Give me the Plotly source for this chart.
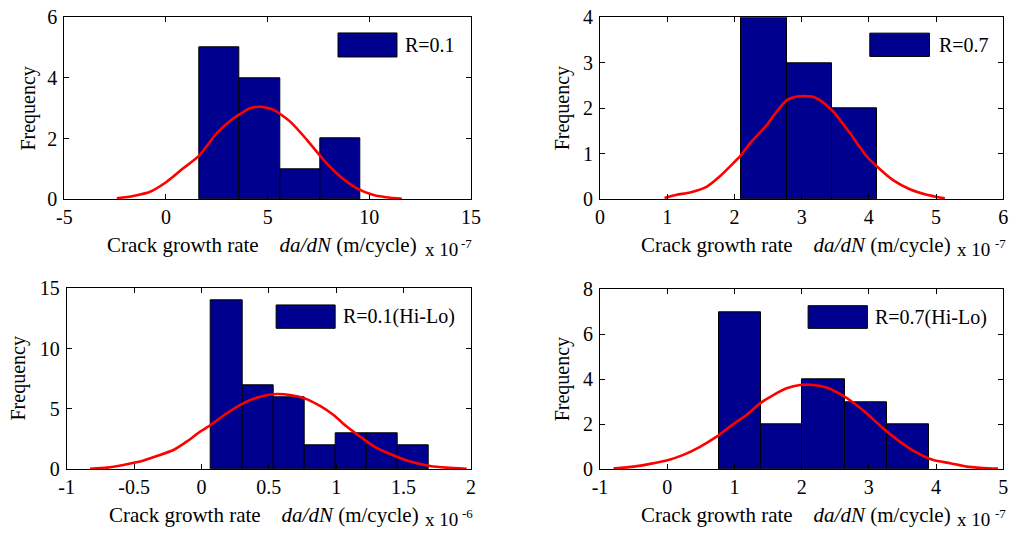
import plotly.graph_objects as go

# ---------------- data ----------------
# Panel 1: R=0.1  (x 1e-7)
p1_edges = [1.62, 3.60, 5.60, 7.60, 9.58]
p1_counts = [5, 4, 1, 2]
p1_curve_x = [-2.42, -1.61, -0.78, 0.04, 0.85, 1.62, 2.50, 3.32, 4.14, 4.63, 5.29, 6.11,
              6.93, 7.75, 8.57, 9.39, 10.21, 11.03, 11.60]
p1_curve_y = [0.03, 0.11, 0.25, 0.58, 1.02, 1.43, 2.18, 2.67, 3.00, 3.05, 2.95, 2.56,
              1.96, 1.30, 0.75, 0.36, 0.14, 0.05, 0.02]

# Panel 2: R=0.7  (x 1e-7)
p2_edges = [2.097, 2.786, 3.451, 4.115]
p2_counts = [4, 3, 2]
p2_curve_x = [0.96, 1.14, 1.34, 1.59, 1.78, 1.98, 2.10, 2.23, 2.48, 2.63, 2.78, 2.93,
              3.15, 3.27, 3.47, 3.72, 3.97, 4.12, 4.36, 4.61, 4.86, 5.13]
p2_curve_y = [0.03, 0.10, 0.15, 0.28, 0.50, 0.79, 0.97, 1.23, 1.63, 1.93, 2.18, 2.26,
              2.26, 2.18, 1.93, 1.45, 0.94, 0.72, 0.42, 0.22, 0.10, 0.02]

# Panel 3: R=0.1(Hi-Lo)  (x 1e-6)
p3_edges = [0.068, 0.303, 0.533, 0.766, 0.996, 1.226, 1.456, 1.686]
p3_counts = [14, 7, 6, 2, 3, 3, 2]
p3_curve_x = [-0.827, -0.70, -0.58, -0.456, -0.332, -0.208, -0.11, -0.01, 0.068, 0.187,
              0.31, 0.435, 0.558, 0.657, 0.766, 0.88, 0.98, 1.078, 1.177, 1.276, 1.40,
              1.548, 1.696, 1.82, 1.968]
p3_curve_y = [0.05, 0.14, 0.36, 0.64, 1.10, 1.60, 2.29, 3.12, 3.67, 4.64, 5.47, 6.02,
              6.24, 6.16, 5.88, 5.25, 4.50, 3.54, 2.71, 1.93, 1.27, 0.64, 0.28, 0.14, 0.05]

# Panel 4: R=0.7(Hi-Lo)  (x 1e-7)
p4_edges = [0.775, 1.39, 2.009, 2.639, 3.264, 3.898]
p4_counts = [7, 2, 4, 3, 2]
p4_curve_x = [-0.80, -0.50, -0.256, -0.008, 0.24, 0.487, 0.735, 0.983, 1.18, 1.38, 1.578,
              1.777, 1.975, 2.17, 2.37, 2.57, 2.77, 2.966, 3.21, 3.46, 3.71, 3.96, 4.21,
              4.45, 4.70, 4.92]
p4_curve_y = [0.03, 0.12, 0.24, 0.39, 0.64, 1.00, 1.45, 2.01, 2.41, 2.93, 3.30, 3.60,
              3.75, 3.75, 3.64, 3.35, 2.96, 2.49, 1.82, 1.23, 0.74, 0.41, 0.27, 0.12, 0.06,
              0.03]

legend_labels = ["R=0.1", "R=0.7", "R=0.1(Hi-Lo)", "R=0.7(Hi-Lo)"]
exponents = ["-7", "-7", "-6", "-7"]
x_ranges = [[-5, 15], [0, 6], [-1, 2], [-1, 5]]
x_ticks = [[-5, 0, 5, 10, 15], [0, 1, 2, 3, 4, 5, 6],
           [-1, -0.5, 0, 0.5, 1, 1.5, 2], [-1, 0, 1, 2, 3, 4, 5]]
x_ticklabels = [["-5", "0", "5", "10", "15"], ["0", "1", "2", "3", "4", "5", "6"],
                ["-1", "-0.5", "0", "0.5", "1", "1.5", "2"],
                ["-1", "0", "1", "2", "3", "4", "5"]]
y_ranges = [[0, 6], [0, 4], [0, 15], [0, 8]]
y_ticks = [[0, 2, 4, 6], [0, 1, 2, 3, 4], [0, 5, 10, 15], [0, 2, 4, 6, 8]]

# ---------------- style ----------------
W, H = 1013, 533
FONT = "Liberation Serif, Times New Roman, serif"
FS = 20
BAR_COLOR = "rgb(0,0,143)"
CURVE_COLOR = "rgb(255,0,0)"

# panel boxes in pixels: (left, right, top, bottom)
boxes = [(64.3, 471.0, 17.3, 199.3),
         (600.0, 1003.3, 17.3, 199.3),
         (66.7, 471.0, 288.3, 469.3),
         (600.0, 1003.3, 289.3, 469.3)]
legend_swatch = [(0.673, 0.818, 0.782, 0.914),
                 (0.669, 0.817, 0.785, 0.913),
                 (0.518, 0.664, 0.779, 0.908),
                 (0.516, 0.663, 0.783, 0.909)]
legend_text_x = [0.833, 0.835, 0.678, 0.676]
ytitle_shift = [-36, -38, -48, -38]
exp_x10_x = [0.882, 0.880, 0.882, 0.880]
exp_sup_x = [0.970, 0.975, 0.972, 0.975]

panels = [
    (p1_edges, p1_counts, p1_curve_x, p1_curve_y),
    (p2_edges, p2_counts, p2_curve_x, p2_curve_y),
    (p3_edges, p3_counts, p3_curve_x, p3_curve_y),
    (p4_edges, p4_counts, p4_curve_x, p4_curve_y),
]

fig = go.Figure()
annotations = []
shapes = []

for i, (edges, counts, cx, cy) in enumerate(panels):
    n = i + 1
    xa = "x" if n == 1 else f"x{n}"
    ya = "y" if n == 1 else f"y{n}"
    centers = [(edges[k] + edges[k + 1]) / 2 for k in range(len(counts))]
    widths = [edges[k + 1] - edges[k] for k in range(len(counts))]
    fig.add_trace(go.Bar(x=centers, y=counts, width=widths, xaxis=xa, yaxis=ya,
                         marker=dict(color=BAR_COLOR, line=dict(color="black", width=1)),
                         showlegend=False, name=legend_labels[i]))
    fig.add_trace(go.Scatter(x=cx, y=cy, mode="lines", xaxis=xa, yaxis=ya,
                             line=dict(color=CURVE_COLOR, width=2.6, shape="spline",
                                       smoothing=0.6),
                             showlegend=False, cliponaxis=False))

    l, r, t, b = boxes[i]
    xdom = [l / W, r / W]
    ydom = [1 - b / H, 1 - t / H]
    axis_common = dict(showline=True, linecolor="black", linewidth=1, mirror="ticks",
                       ticks="inside", ticklen=5, tickcolor="black", tickwidth=1,
                       showgrid=False, zeroline=False, automargin=False,
                       tickfont=dict(family=FONT, size=FS, color="black"))
    xkey = "xaxis" if n == 1 else f"xaxis{n}"
    ykey = "yaxis" if n == 1 else f"yaxis{n}"
    fig.update_layout(**{
        xkey: dict(domain=xdom, range=x_ranges[i], tickvals=x_ticks[i],
                   ticktext=x_ticklabels[i],
                   anchor=ya, ticklabelstandoff=0, **axis_common),
        ykey: dict(domain=ydom, range=y_ranges[i], tickvals=y_ticks[i],
                   anchor=xa, ticklabelstandoff=2, **axis_common),
    })

    xd = f"{xa} domain"
    yd = f"{ya} domain"
    # legend swatch + label
    sx0, sx1, sy0, sy1 = legend_swatch[i]
    shapes.append(dict(type="rect", xref=xd, yref=yd, x0=sx0, x1=sx1, y0=sy0, y1=sy1,
                       fillcolor=BAR_COLOR, line=dict(color="black", width=1)))
    annotations.append(dict(xref=xd, yref=yd, x=legend_text_x[i], y=(sy0 + sy1) / 2,
                            text=legend_labels[i], showarrow=False, xanchor="left",
                            yanchor="middle",
                            font=dict(family=FONT, size=FS, color="black")))
    # x title
    annotations.append(dict(xref=xd, yref=yd, x=0.487, y=0, yshift=-46,
                            text="Crack growth rate&nbsp;&nbsp;&nbsp;&nbsp;"
                                 "<i>da/dN</i> (m/cycle)",
                            showarrow=False, xanchor="center", yanchor="middle",
                            font=dict(family=FONT, size=21, color="black")))
    # exponent "x 10" and superscript
    annotations.append(dict(xref=xd, yref=yd, x=exp_x10_x[i], y=0, yshift=-63,
                            text="x 10", showarrow=False, xanchor="left",
                            yanchor="bottom",
                            font=dict(family=FONT, size=19, color="black")))
    annotations.append(dict(xref=xd, yref=yd, x=exp_sup_x[i], y=0, yshift=-44,
                            text=exponents[i], showarrow=False, xanchor="left",
                            yanchor="middle",
                            font=dict(family=FONT, size=13, color="black")))
    # y title
    annotations.append(dict(xref=xd, yref=yd, x=0, y=0.5, xshift=ytitle_shift[i],
                            text="Frequency", textangle=-90, showarrow=False,
                            xanchor="center", yanchor="middle",
                            font=dict(family=FONT, size=FS, color="black")))

fig.update_layout(width=W, height=H,
                  margin=dict(l=0, r=0, t=0, b=0, pad=0, autoexpand=False),
                  paper_bgcolor="white", plot_bgcolor="white",
                  bargap=0, showlegend=False,
                  annotations=annotations, shapes=shapes,
                  font=dict(family=FONT, size=FS, color="black"))

fig.write_html("out.html", config={"responsive": False, "displayModeBar": False},
               post_script="document.body.style.margin='0';"
                           "document.body.style.padding='0';"
                           "document.body.style.overflow='hidden';")
